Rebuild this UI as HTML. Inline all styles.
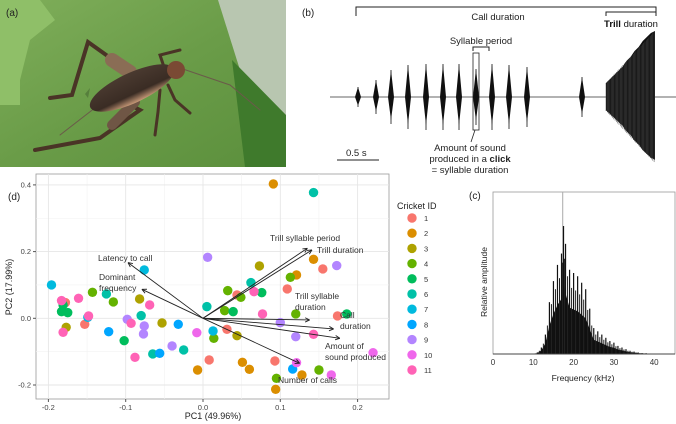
<!DOCTYPE html>
<html><head><meta charset="utf-8"><style>
html,body{margin:0;padding:0;background:#fff;width:676px;height:424px;overflow:hidden}
svg{display:block;font-family:"Liberation Sans",Arial,sans-serif}
</style></head><body>
<svg id="fig" width="676" height="424" viewBox="0 0 676 424">
<defs>
<linearGradient id="leaf" x1="0" y1="0" x2="1" y2="1"><stop offset="0" stop-color="#7fae5a"/><stop offset="0.5" stop-color="#6a9c48"/><stop offset="1" stop-color="#5b8f3c"/></linearGradient>
<linearGradient id="body" x1="0" y1="0" x2="0" y2="1"><stop offset="0" stop-color="#4a3a30"/><stop offset="0.7" stop-color="#3a2c24"/><stop offset="1" stop-color="#c89a78"/></linearGradient>
</defs>
<g>
<rect x="0" y="0" width="286" height="167" fill="url(#leaf)"/>
<polygon points="218,0 286,0 286,120 240,70" fill="#b8c6b0"/>
<polygon points="232,60 286,115 286,167 245,167" fill="#3f7a2c"/>
<polygon points="0,0 40,0 55,20 30,40 20,80 20,105 0,105" fill="#8fbf68"/>
<path d="M90,88 L88,98 L85,94 Z" fill="#567f3c"/>
<g stroke="#4a3426" stroke-linecap="round" fill="none">
<path d="M130,72 L88,42 L72,95 L50,98" stroke-width="4"/>
<path d="M130,72 L112,60" stroke="#8a6d55" stroke-width="14"/>
<path d="M120,100 L140,110 L100,138 L35,150" stroke-width="4"/>
<path d="M135,102 L112,125" stroke="#6f5645" stroke-width="10"/>
<path d="M160,90 L158,112 L155,135" stroke-width="3"/>
<path d="M168,85 L175,100 L190,113" stroke-width="3"/>
<path d="M165,70 L160,55 L180,50" stroke-width="3"/>
<path d="M180,68 L230,85 L260,110" stroke="#6b5a4a" stroke-width="1"/>
<path d="M100,104 L60,135" stroke="#6b5a4a" stroke-width="1"/>
</g>
<ellipse cx="132" cy="88" rx="46" ry="15" transform="rotate(-25 132 88)" fill="url(#body)"/>
<ellipse cx="176" cy="70" rx="9" ry="9" fill="#7a4a34"/>
<text x="6" y="16" font-size="10" fill="#222">(a)</text>
</g>
<text x="302" y="16" font-size="10" fill="#222">(b)</text>
<g id="wave">
<path d="M356,16 L356,7 L656,7 L656,16" stroke="#222" fill="none" stroke-width="1"/>
<text x="498" y="20" font-size="9.5" text-anchor="middle" fill="#222">Call duration</text>
<path d="M606,16 L606,12 L656,12 L656,16" stroke="#222" fill="none"/>
<text x="631" y="27" font-size="9.5" text-anchor="middle" fill="#111"><tspan font-weight="bold">Trill</tspan> duration</text>
<path d="M473,51 L473,47 L489,47 L489,51" stroke="#222" fill="none"/>
<text x="481" y="44" font-size="9.5" text-anchor="middle" fill="#222">Syllable period</text>
<line x1="330" y1="97" x2="676" y2="97" stroke="#333" stroke-width="0.8"/>
<rect x="473" y="53" width="6" height="77" fill="none" stroke="#222" stroke-width="0.8"/>
<line x1="475" y1="130" x2="471" y2="142" stroke="#222" stroke-width="0.8"/>
<text x="470" y="151" font-size="9.5" text-anchor="middle" fill="#222">Amount of sound</text>
<text x="470" y="162" font-size="9.5" text-anchor="middle" fill="#222">produced in a <tspan font-weight="bold">click</tspan></text>
<text x="470" y="173" font-size="9.5" text-anchor="middle" fill="#222">= syllable duration</text>
<line x1="337" y1="160" x2="379" y2="160" stroke="#222"/>
<text x="346" y="156" font-size="9.5" fill="#222">0.5 s</text>
</g>
<text x="8" y="200" font-size="10" fill="#222">(d)</text>
<g id="pca"></g>
<g id="legend">
<text x="397" y="209" font-size="9" fill="#222">Cricket ID</text>
</g>
<text x="469" y="199" font-size="10" fill="#222">(c)</text>
<g id="spec"></g>
</svg>
<script>
const NS="http://www.w3.org/2000/svg";
function mk(p,t,a){const e=document.createElementNS(NS,t);for(const k in a)e.setAttribute(k,a[k]);p.appendChild(e);return e;}
// ---- PCA data ----
const ids=[2,2,2,2,2,2,2,2,6,6,6,6,6,6,6,1,1,1,1,1,1,1,1,1,9,9,9,9,9,9,9,9,3,3,3,3,3,4,4,4,4,4,4,4,4,4,4,5,5,5,5,5,5,5,7,7,7,7,8,8,8,8,10,10,10,10,11,11,11,11,11,11,11,11,11,11];
const pc1=[0.091,0.143,0.121,-0.007,0.051,0.060,0.128,0.094,0.143,0.062,0.005,-0.080,-0.125,-0.065,-0.025,0.155,0.109,0.044,0.174,0.031,0.008,0.093,-0.153,-0.178,0.006,0.173,-0.098,-0.076,-0.077,-0.040,0.120,0.100,0.073,-0.082,-0.053,0.044,-0.177,0.113,-0.143,-0.116,0.032,0.049,0.028,0.120,0.014,0.150,0.095,0.076,0.039,0.186,-0.102,-0.181,-0.183,-0.175,-0.196,-0.076,-0.149,0.013,-0.122,-0.032,-0.056,0.116,-0.008,0.220,0.166,0.121,-0.161,-0.183,-0.181,-0.148,-0.093,-0.069,-0.088,0.066,0.077,0.143];
const pc2=[0.403,0.177,0.130,-0.155,-0.132,-0.153,-0.170,-0.213,0.377,0.107,0.035,0.008,0.073,-0.107,-0.095,0.148,0.088,0.070,0.007,-0.033,-0.125,-0.128,-0.018,0.047,0.183,0.158,-0.003,-0.023,-0.047,-0.083,-0.055,-0.013,0.157,0.058,-0.014,-0.052,-0.027,0.123,0.078,0.049,0.083,0.063,0.023,0.013,-0.060,-0.155,-0.180,0.077,0.020,0.013,-0.067,0.040,0.020,0.017,0.100,0.145,0.003,-0.038,-0.040,-0.018,-0.105,-0.152,-0.043,-0.103,-0.170,-0.133,0.060,0.053,-0.042,0.007,-0.015,0.040,-0.117,0.080,0.013,-0.048];
const colors=["#F8766D","#DB8E00","#AEA200","#64B200","#00BD5C","#00C1A7","#00BADE","#00A6FF","#B385FF","#EF67EB","#FF63B6"];
const loadNames=["Latency to call","Dominant frequency","Trill syllable period","Trill duration","Trill syllable duration","Call duration","Amount of sound produced","Number of calls"];
const loadX=[-0.097,-0.079,0.135,0.141,0.138,0.169,0.177,0.125];
const loadY=[0.167,0.087,0.210,0.205,-0.005,-0.032,-0.060,-0.135];
const xTicks=[-0.2,-0.1,0.0,0.1,0.2];
const yTicks=[-0.2,0.0,0.2,0.4];
const X=v=>203+v*773, Y=v=>318.3-v*333.5;
const pca=document.getElementById('pca');
mk(pca,'rect',{x:36,y:174,width:353,height:225,fill:'#fff',stroke:'#999','stroke-width':0.8});
[-0.25,-0.15,-0.05,0.05,0.15,0.25].forEach(v=>{if(X(v)>36&&X(v)<389)mk(pca,'line',{x1:X(v),x2:X(v),y1:174,y2:399,stroke:'#f2f2f2','stroke-width':0.6});});
[-0.3,-0.1,0.1,0.3].forEach(v=>{if(Y(v)>174&&Y(v)<399)mk(pca,'line',{x1:36,x2:389,y1:Y(v),y2:Y(v),stroke:'#f2f2f2','stroke-width':0.6});});
xTicks.forEach(v=>{mk(pca,'line',{x1:X(v),x2:X(v),y1:174,y2:399,stroke:'#e6e6e6','stroke-width':0.9});
 mk(pca,'line',{x1:X(v),x2:X(v),y1:399,y2:402,stroke:'#555'});
 const t=mk(pca,'text',{x:X(v),y:410,'font-size':7.5,'text-anchor':'middle',fill:'#444'});t.textContent=v.toFixed(1);});
yTicks.forEach(v=>{mk(pca,'line',{x1:36,x2:389,y1:Y(v),y2:Y(v),stroke:'#e6e6e6','stroke-width':0.9});
 mk(pca,'line',{x1:33,x2:36,y1:Y(v),y2:Y(v),stroke:'#555'});
 const t=mk(pca,'text',{x:31,y:Y(v)+2.5,'font-size':7.5,'text-anchor':'end',fill:'#444'});t.textContent=v.toFixed(1);});
let t=mk(pca,'text',{x:213,y:419,'font-size':9,'text-anchor':'middle',fill:'#222'});t.textContent='PC1 (49.96%)';


t=mk(pca,'text',{x:0,y:0,'font-size':9,'text-anchor':'middle',fill:'#222',transform:'translate(12,287) rotate(-90)'});t.textContent='PC2 (17.99%)';


for(let i=0;i<ids.length;i++){
 const c=mk(pca,'circle',{cx:X(pc1[i]),cy:Y(pc2[i]),r:4.7,fill:colors[ids[i]-1]});
 
 
}
const labelPos=[[98,261,'start'],[99,280,'start'],[270,241,'start'],[317,253,'start'],[295,299,'start'],[340,318,'start'],[325,349,'start'],[278,383,'start']];
const labelLines=[["Latency to call"],["Dominant","frequency"],["Trill syllable period"],["Trill duration"],["Trill syllable","duration"],["Call","duration"],["Amount of","sound produced"],["Number of calls"]];
for(let i=0;i<loadX.length;i++){
 const x0=X(0),y0=Y(0),x1=X(loadX[i]),y1=Y(loadY[i]);
 const a=mk(pca,'line',{x1:x0,y1:y0,x2:x1,y2:y1,stroke:'#222','stroke-width':0.9});
 
 
 const ang=Math.atan2(y1-y0,x1-x0);
 [0.45,-0.45].forEach(d=>mk(pca,'line',{x1:x1,y1:y1,x2:x1-5*Math.cos(ang+d),y2:y1-5*Math.sin(ang+d),stroke:'#222','stroke-width':0.9}));
 labelLines[i].forEach((s,j)=>{const tt=mk(pca,'text',{x:labelPos[i][0],y:labelPos[i][1]+j*11,'font-size':8.5,fill:'#333'});tt.textContent=s;
  
  });
}
// legend
const lg=document.getElementById('legend');
colors.forEach((c,i)=>{
 const d=mk(lg,'circle',{cx:412,cy:218+i*15.2,r:4.7,fill:c});
 
 
 const tx=mk(lg,'text',{x:424,y:221+i*15.2,'font-size':7.5,fill:'#333'});tx.textContent=String(i+1);
 
 
});
// ---- waveform ----
const sylT=[358,376,391,408,426,443,459,476,492,509,527,582];
const sylAmp=[10,17,27,32,33,33,33,28,33,32,30,20];
const wv=document.getElementById('wave');
sylT.forEach((x,i)=>{
 const a=sylAmp[i];
 const p=mk(wv,'path',{d:`M${x-3},97 L${x},${97-a} L${x+3},97 L${x},${97+a*0.85} Z`,fill:'#111'});
 
 
 mk(wv,'line',{x1:x,x2:x,y1:97-a,y2:97+a,stroke:'#111','stroke-width':0.8});
});
const trillStart=606, trillEnd=655;
const trillAmp=[14,18,22,26,30,36,40,46,50,56,60,64,66];
let up=`M${trillStart},97`,dn='';
trillAmp.forEach((a,i)=>{const x=trillStart+(trillEnd-trillStart)*i/(trillAmp.length-1);up+=` L${x},${97-a}`;dn=` L${x},${97+a}`+dn;});
const tr=mk(wv,'path',{d:up+` L${trillEnd},97`+dn.split(' L').reverse().join(' L').replace(/ L$/,'')+' Z',fill:'#111'});
tr.setAttribute('d',(()=>{let s=`M${trillStart},97`;trillAmp.forEach((a,i)=>{s+=` L${trillStart+(trillEnd-trillStart)*i/(trillAmp.length-1)},${97-a}`});s+=` L${trillEnd},97`;for(let i=trillAmp.length-1;i>=0;i--){s+=` L${trillStart+(trillEnd-trillStart)*i/(trillAmp.length-1)},${97+trillAmp[i]*0.95}`}return s+' Z';})());


for(let x=trillStart;x<=trillEnd;x+=1.3){const a=14+(x-trillStart)/(trillEnd-trillStart)*52;mk(wv,'line',{x1:x,x2:x,y1:97-a,y2:97+a,stroke:'#444','stroke-width':0.5});}
// ---- spectrum ----
const freqs=[10,11,12,13,14,15,16,17,17.5,18,19,20,21,22,23,24,25,26,27,28,29,30,31,32,33,34,35,36,38,40,45];
const amps=[0,0.01,0.04,0.12,0.32,0.45,0.55,0.62,0.79,0.68,0.52,0.50,0.48,0.44,0.40,0.28,0.16,0.14,0.12,0.10,0.08,0.07,0.05,0.04,0.03,0.02,0.015,0.01,0.005,0.003,0];
const fTicks=[0,10,20,30,40];
const sp=document.getElementById('spec');
const FX=f=>493+f*4.03, AY=a=>354-a*162;
mk(sp,'rect',{x:493,y:192,width:182,height:162,fill:'#fff',stroke:'#999','stroke-width':0.8});
mk(sp,'line',{x1:FX(17.3),x2:FX(17.3),y1:192,y2:354,stroke:'#aaa','stroke-width':1});
let sd=`M${FX(freqs[0])},354`;freqs.forEach((f,i)=>{sd+=` L${FX(f)},${AY(amps[i]*0.55)}`;});sd+=` L${FX(45)},354 Z`;
const env=mk(sp,'path',{d:sd,fill:'#111'});


freqs.forEach((f,i)=>{const l=mk(sp,'line',{x1:FX(f),x2:FX(f),y1:354,y2:AY(amps[i]),stroke:'#111','stroke-width':1.2});
 
 });
for(let i=0;i<freqs.length-1;i++){const fm=(freqs[i]+freqs[i+1])/2,am=(amps[i]+amps[i+1])/2*0.8;mk(sp,'line',{x1:FX(fm),x2:FX(fm),y1:354,y2:AY(am),stroke:'#222','stroke-width':1});}
mk(sp,'line',{x1:493,x2:675,y1:354,y2:354,stroke:'#444'});
fTicks.forEach(f=>{const tx=mk(sp,'text',{x:FX(f),y:365,'font-size':8,'text-anchor':'middle',fill:'#333'});tx.textContent=String(f);});
t=mk(sp,'text',{x:583,y:381,'font-size':8.5,'text-anchor':'middle',fill:'#222'});t.textContent='Frequency (kHz)';


t=mk(sp,'text',{x:0,y:0,'font-size':8.5,'text-anchor':'middle',fill:'#222',transform:'translate(487,282) rotate(-90)'});t.textContent='Relative amplitude';


</script>
</body></html>
